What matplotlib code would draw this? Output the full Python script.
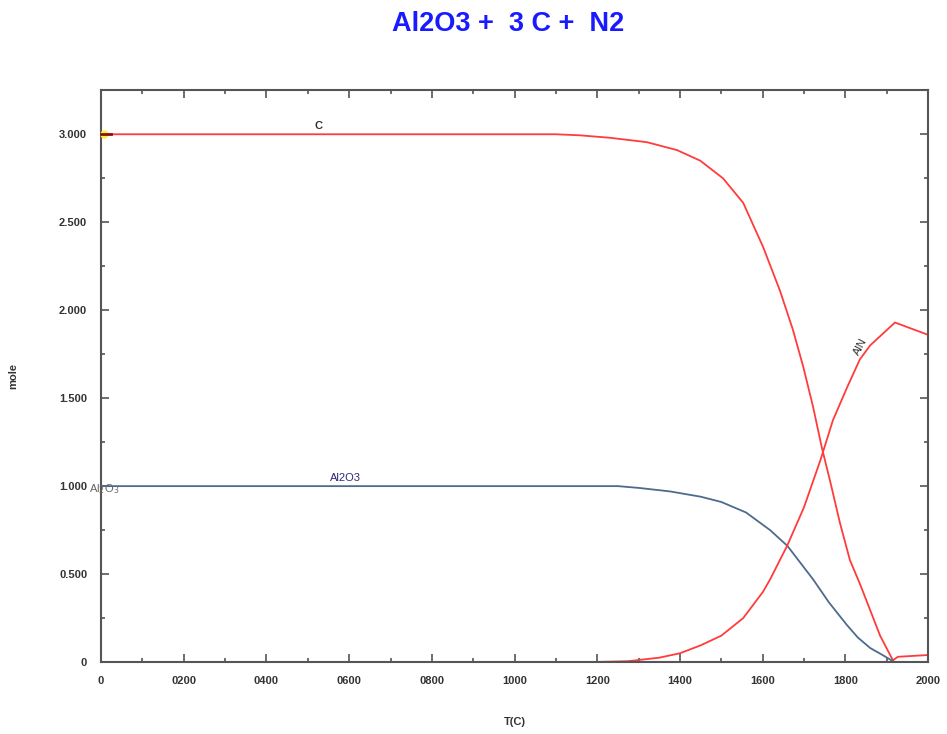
import matplotlib
matplotlib.use("Agg")
import matplotlib.pyplot as plt
from matplotlib.ticker import MultipleLocator

plt.rcParams["font.family"] = ["Liberation Sans", "DejaVu Sans"]

# values
temp_c = [0, 400, 800, 1100, 1158, 1231, 1320, 1393, 1449, 1504, 1553, 1601, 1642,
          1673, 1698, 1722, 1743, 1763, 1787, 1811, 1836, 1860, 1884, 1915, 1927, 2000]
mol_c = [3.0, 3.0, 3.0, 3.0, 2.994, 2.98, 2.955, 2.91, 2.85, 2.75, 2.61, 2.36, 2.11,
         1.89, 1.68, 1.45, 1.22, 1.03, 0.79, 0.58, 0.44, 0.295, 0.15, 0.01, 0.03, 0.04]

temp_al2o3 = [0, 400, 800, 1250, 1300, 1376, 1450, 1500, 1560, 1618, 1660, 1722,
              1760, 1804, 1830, 1860, 1890, 1915]
mol_al2o3 = [1.0, 1.0, 1.0, 1.0, 0.99, 0.97, 0.94, 0.91, 0.85, 0.75, 0.66, 0.47,
             0.34, 0.21, 0.14, 0.08, 0.04, 0.005]

temp_aln = [1180, 1275, 1350, 1400, 1450, 1500, 1553, 1601, 1618, 1659, 1700, 1740,
            1770, 1804, 1835, 1860, 1920, 2000]
mol_aln = [0.0, 0.005, 0.025, 0.05, 0.095, 0.15, 0.25, 0.40, 0.47, 0.66, 0.88, 1.15,
           1.375, 1.56, 1.72, 1.80, 1.93, 1.86]

x_ticks = [0, 200, 400, 600, 800, 1000, 1200, 1400, 1600, 1800, 2000]
x_labels = ["0", "0200", "0400", "0600", "0800", "1000", "1200", "1400", "1600", "1800", "2000"]
y_ticks = [0, 0.5, 1.0, 1.5, 2.0, 2.5, 3.0]
y_labels = ["0", "0.500", "1.000", "1.500", "2.000", "2.500", "3.000"]

red = "#ff3b3b"
blue = "#4d6b8c"
axis_col = "#555555"
txt_col = "#333333"

fig = plt.figure(figsize=(9.47, 7.34), dpi=100)
ax = fig.add_axes([0.1067, 0.098, 0.8733, 0.779])

ax.plot(temp_c, mol_c, color=red, lw=1.3)
ax.plot(temp_al2o3, mol_al2o3, color=blue, lw=1.3)
ax.plot(temp_aln, mol_aln, color=red, lw=1.3)

# little starting marker on the C line
ax.plot([8], [3.0], marker="o", ms=6, color="#ffee44", mec="none", clip_on=False, zorder=3)
ax.plot([0, 25], [3.0, 3.0], color="#8b1010", lw=2, clip_on=False, zorder=4)

# curve labels
ax.text(525, 3.02, "C", fontsize=8, color=txt_col, ha="center", va="bottom", fontweight="bold")
ax.text(592, 1.02, "Al2O3", fontsize=8, color="#2a2a7a", ha="center", va="bottom")
ax.text(1836, 1.79, "AlN", fontsize=8, color=txt_col, ha="center", va="center", rotation=62)
ax.text(-28, 0.985, "Al$_2$O$_3$", fontsize=8, color="#666666", ha="left", va="center")

ax.set_xlim(0, 2000)
ax.set_ylim(0, 3.25)
ax.set_xticks(x_ticks)
ax.set_xticklabels(x_labels)
ax.set_yticks(y_ticks)
ax.set_yticklabels(y_labels)
ax.xaxis.set_minor_locator(MultipleLocator(100))
ax.yaxis.set_minor_locator(MultipleLocator(0.25))
ax.tick_params(which="both", direction="in", top=True, right=True, colors=axis_col,
               labelcolor=txt_col, labelsize=8, width=1.2)
ax.tick_params(which="major", length=6, pad=10)
ax.tick_params(which="minor", length=3)
for lab in ax.get_xticklabels() + ax.get_yticklabels():
    lab.set_fontweight("bold")
for sp in ax.spines.values():
    sp.set_color(axis_col)
    sp.set_linewidth(1.5)

ax.set_xlabel("T(C)", fontsize=8, color=txt_col, fontweight="bold", labelpad=22)
ax.set_ylabel("mole", fontsize=8, color=txt_col, fontweight="bold")
ax.yaxis.set_label_coords(-0.1, 0.5)

fig.text(0.537, 0.985, "Al2O3 +  3 C +  N2", fontsize=19.5, color="#1a1aff",
         fontweight="bold", ha="center", va="top")

fig.savefig("out.png", dpi=100)
